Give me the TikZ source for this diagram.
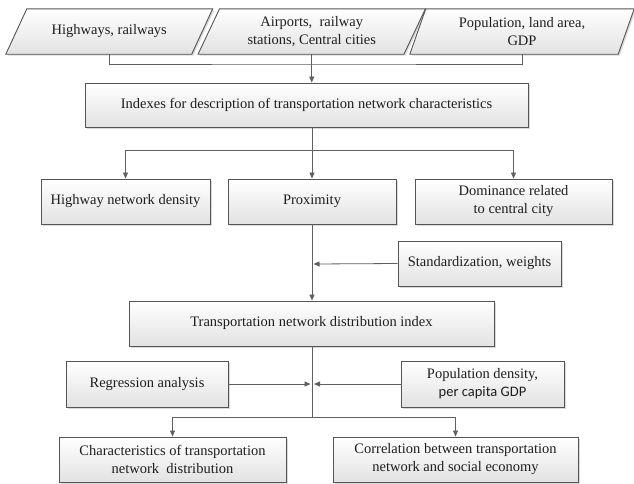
\documentclass[tikz,border=0pt]{standalone}
\usepackage{fontspec}
\setmainfont{Liberation Serif}
\newfontfamily\calib{Carlito}
\usetikzlibrary{arrows.meta,shadows,backgrounds,calc}
\definecolor{edge}{HTML}{555555}
\definecolor{wire}{HTML}{606060}
\definecolor{shadecol}{HTML}{E2E2E2}
\definecolor{ink}{HTML}{1E1E1E}
\begin{document}
\begin{tikzpicture}[x=1pt,y=-1pt,
  font=\fontsize{14.5}{18}\selectfont,
  boxshape/.style={draw=edge, line width=0.9pt, top color=white, bottom color=shadecol,
    drop shadow={shadow xshift=1.5pt, shadow yshift=-1.5pt, opacity=0.3, fill=gray}},
  stepbox/.style={boxshape, inner sep=0pt, align=center, text=ink, minimum height=45pt},
  ptext/.style={inner sep=0pt, align=center, text=ink, minimum height=45pt},
  wireline/.style={draw=wire, line width=0.8pt},
  arr/.style={wireline, -{Triangle[length=6pt,width=5pt]}}
]
\useasboundingbox (0,0) rectangle (634,483);

% top parallelogram inputs
\node[ptext, minimum width=185.5pt] (p1) at (109.25,31.5) {Highways, railways};
\node[ptext, minimum width=205.5pt] (p2) at (311.75,31.5) {Airports,\ \ railway\\stations, Central cities};
\node[ptext, minimum width=208pt] (p3) at (522,31.5) {Population, land area,\\GDP};
\begin{scope}[on background layer]
\foreach \n/\s in {p1/10.5,p2/10.75,p3/8}{
  \path[boxshape] ($(\n.north west)+(\s,0)$) -- ($(\n.north east)+(\s,0)$)
     -- ($(\n.south east)+(-\s,0)$) -- ($(\n.south west)+(-\s,0)$) -- cycle;}
\end{scope}

% boxes
\node[stepbox, minimum width=443pt, minimum height=44pt] (idx) at (306.5,105) {Indexes for description of transportation network characteristics};
\node[stepbox, minimum width=169pt] (hnd) at (125.5,201.5) {Highway network density};
\node[stepbox, minimum width=168pt] (prox) at (312,201.5) {Proximity};
\node[stepbox, minimum width=197pt] (dom) at (513.5,201.5) {Dominance related\\to central city};
\node[stepbox, minimum width=163pt] (std) at (479.5,263.5) {Standardization, weights};
\node[stepbox, minimum width=365pt] (tndi) at (311.5,323.5) {Transportation network distribution index};
\node[stepbox, minimum width=162pt, minimum height=46pt] (reg) at (147,384) {Regression analysis};
\node[stepbox, minimum width=163pt, minimum height=46pt] (pop) at (482.5,384) {Population density,\\{\calib per capita GDP}};
\node[stepbox, minimum width=227pt] (chr) at (172.5,459.5) {Characteristics of transportation\\network\ \ distribution};
\node[stepbox, minimum width=245pt] (cor) at (455.5,459.5) {Correlation between transportation\\network and social economy};

% connectors
\coordinate (axtop) at (312,64);
\draw[wireline] (p1.south) |- (axtop) -| (p3.south);
\draw[arr] (p2.south) -- (p2.south |- idx.north);

\coordinate (br1) at (312,150);
\draw[wireline] (br1 |- idx.south) -- (br1);
\draw[arr] (br1) -| (hnd.north);
\draw[arr] (br1) -| (dom.north);
\draw[arr] (br1) -- (prox.north);
\draw[arr] (prox.south) -- (prox.south |- tndi.north);
\coordinate (js) at (313.5,264);
\draw[arr] (std.west) -- (js);

\coordinate (br2) at (312,417);
\draw[wireline] (br2 |- tndi.south) -- (br2);
\draw[arr] (br2) -| (chr.north);
\draw[arr] (br2) -| (cor.north);
\coordinate (jl) at (310.5,384);
\coordinate (jr) at (314,384);
\draw[arr] (reg.east) -- (jl);
\draw[arr] (pop.west) -- (jr);
\end{tikzpicture}
\end{document}
